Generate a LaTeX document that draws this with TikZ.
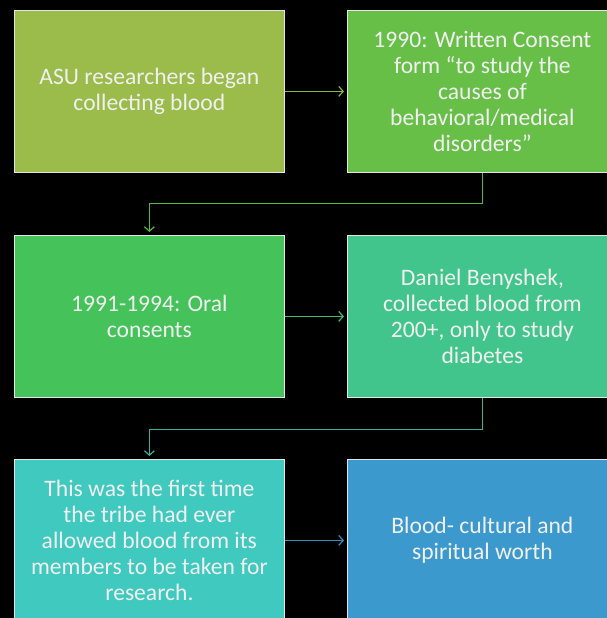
\documentclass[tikz,border=0pt]{standalone}
\usepackage{fontspec}
\setmainfont{Carlito}
\usetikzlibrary{arrows.meta}
\definecolor{cA}{HTML}{9BBB4B}
\definecolor{cB}{HTML}{68BF48}
\definecolor{cC}{HTML}{45C25A}
\definecolor{cD}{HTML}{42C58C}
\definecolor{cE}{HTML}{40C9BF}
\definecolor{cF}{HTML}{3C99CD}
\definecolor{aA}{HTML}{80BC45}
\definecolor{aB}{HTML}{58B845}
\definecolor{aC}{HTML}{44BE72}
\definecolor{aD}{HTML}{3AB09E}
\definecolor{aE}{HTML}{3A8DBA}
\begin{document}
\begin{tikzpicture}[x=1pt,y=-1pt,
  box/.style={draw=white!80!gray, line width=0.8pt, minimum width=270pt, minimum height=162pt,
    inner sep=0pt, align=center, text=white!94!black, font=\fontsize{23.6}{26}\selectfont, anchor=north west},
  conn/.style={line width=1.2pt, -{Straight Barb[length=4.5pt,width=10pt]}, shorten >=3pt}]
\useasboundingbox (0,0) rectangle (607,618);
\clip (0,0) rectangle (607,618);
\fill[black] (0,0) rectangle (607,618);
\node[box, fill=cA] (b1) at (14,10) {ASU researchers began\\collecting blood};
\node[box, fill=cB] (b2) at (347,10) {1990: Written Consent\\form “to study the\\causes of\\behavioral/medical\\disorders”};
\node[box, fill=cC] (b3) at (14,235) {1991-1994: Oral\\consents};
\node[box, fill=cD] (b4) at (347,235) {Daniel Benyshek,\\collected blood from\\200+, only to study\\diabetes};
\node[box, fill=cE] (b5) at (14,459) {This was the first time\\the tribe had ever\\allowed blood from its\\members to be taken for\\research.};
\node[box, fill=cF] (b6) at (347,459) {Blood- cultural and\\spiritual worth};
\draw[conn, aA] (b1.east) -- (b2.west);
\draw[conn, aB] (b2.south) -- ++(0,31) -| (b3.north);
\draw[conn, aC] (b3.east) -- (b4.west);
\draw[conn, aD] (b4.south) -- ++(0,32) -| (b5.north);
\draw[conn, aE] (b5.east) -- (b6.west);
\end{tikzpicture}
\end{document}
